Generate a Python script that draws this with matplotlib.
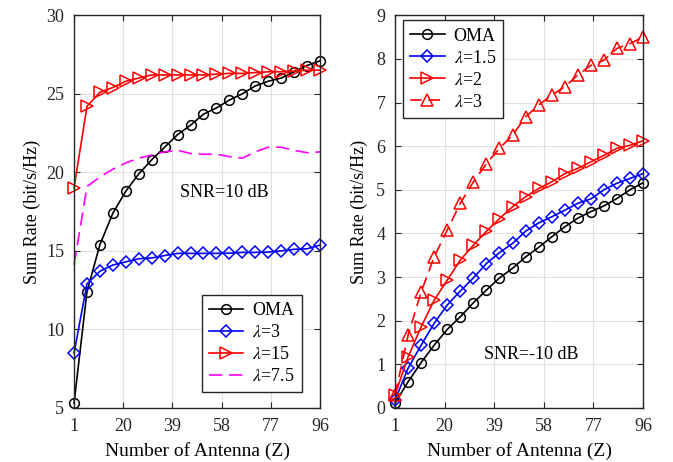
import numpy as np
import matplotlib
matplotlib.use("Agg")
import matplotlib.pyplot as plt

plt.rcParams['font.family'] = ['Liberation Serif', 'DejaVu Serif']
plt.rcParams['mathtext.fontset'] = 'stix'

# antenna counts (markers every 5 antennas)
z = [1, 6, 11, 16, 21, 26, 31, 36, 41, 46, 51, 56, 61, 66, 71, 76, 81, 86, 91, 96]

# left: SNR = 10 dB
oma_hi = [5.3, 12.4, 15.4, 17.4, 18.8, 19.9, 20.8, 21.6, 22.4, 23.0,
          23.7, 24.1, 24.6, 25.0, 25.5, 25.8, 26.0, 26.4, 26.8, 27.1]
lam3_hi = [8.5, 12.9, 13.7, 14.1, 14.3, 14.5, 14.55, 14.7, 14.84, 14.84,
           14.84, 14.84, 14.85, 14.9, 14.9, 14.92, 15.0, 15.1, 15.13, 15.37]
lam15_hi = [19.0, 24.2, 25.1, 25.4, 25.8, 26.0, 26.2, 26.2, 26.2, 26.2,
            26.2, 26.25, 26.3, 26.3, 26.35, 26.4, 26.4, 26.45, 26.5, 26.5]
lam75_hi = [14.1, 19.1, 19.7, 20.2, 20.6, 20.9, 21.1, 21.3, 21.4, 21.2,
            21.15, 21.15, 21.0, 20.9, 21.3, 21.6, 21.6, 21.4, 21.25, 21.3]

# right: SNR = -10 dB
oma_lo = [0.11, 0.6, 1.04, 1.44, 1.8, 2.09, 2.41, 2.7, 2.98, 3.2,
          3.46, 3.68, 3.92, 4.15, 4.35, 4.5, 4.63, 4.8, 5.0, 5.16]
lam15_lo = [0.18, 0.91, 1.44, 1.94, 2.36, 2.68, 2.98, 3.31, 3.56, 3.77,
            4.05, 4.24, 4.38, 4.53, 4.69, 4.79, 5.0, 5.15, 5.26, 5.37]
lam2_lo = [0.3, 1.17, 1.86, 2.47, 2.93, 3.39, 3.73, 4.05, 4.34, 4.61,
           4.84, 5.03, 5.18, 5.37, 5.49, 5.64, 5.79, 5.95, 6.02, 6.12]
lam3_lo = [0.3, 1.67, 2.66, 3.46, 4.08, 4.69, 5.18, 5.6, 5.95, 6.25,
           6.67, 6.94, 7.17, 7.36, 7.63, 7.85, 7.97, 8.24, 8.35, 8.5]

xt = [1, 20, 39, 58, 77, 96]
fs = 13

fig = plt.figure(figsize=(6.73, 4.62), dpi=100)
ax1 = fig.add_axes([0.110, 0.117, 0.3655, 0.850])
ax2 = fig.add_axes([0.587, 0.117, 0.3685, 0.850])

mk = dict(markerfacecolor='none', markeredgewidth=1.1, linewidth=1.2)
leg = dict(fontsize=fs, fancybox=False, edgecolor='#262626', framealpha=1,
           handlelength=1.9, handletextpad=0.5, labelspacing=0.28,
           borderpad=0.4, borderaxespad=0)

ax1.plot(z, oma_hi, '-o', color='k', markersize=7, label='OMA', **mk)
ax1.plot(z, lam3_hi, '-D', color='b', markersize=6.5, label=r'$\lambda$=3', **mk)
ax1.plot(z, lam15_hi, '->', color='r', markersize=8.5, label=r'$\lambda$=15', **mk)
ax1.plot(z, lam75_hi, '--', color='#ff00ff', dashes=(8, 4), linewidth=1.2,
         label=r'$\lambda$=7.5')
ax1.set_ylim(5, 30)
ax1.set_yticks([5, 10, 15, 20, 25, 30])
ax1.set_ylabel('Sum Rate (bit/s/Hz)', fontsize=fs, labelpad=4)
ax1.text(59, 18.7, 'SNR=10 dB', fontsize=fs, ha='center', va='center')
ax1.legend(loc='lower right', bbox_to_anchor=(0.927, 0.04), **leg)

ax2.plot(z, oma_lo, '-o', color='k', markersize=7, label='OMA', **mk)
ax2.plot(z, lam15_lo, '-D', color='b', markersize=6.5, label=r'$\lambda$=1.5', **mk)
ax2.plot(z, lam2_lo, '->', color='r', markersize=8.5, label=r'$\lambda$=2', **mk)
ax2.plot(z, lam3_lo, '--^', color='r', markersize=8.5, dashes=(7, 4),
         label=r'$\lambda$=3', **mk)
ax2.set_ylim(0, 9)
ax2.set_yticks(range(10))
ax2.set_ylabel('Sum Rate (bit/s/Hz)', fontsize=fs, labelpad=6)
ax2.text(53, 1.22, 'SNR=-10 dB', fontsize=fs, ha='center', va='center')
ax2.legend(loc='upper left', bbox_to_anchor=(0.032, 0.987), **leg)

for ax in (ax1, ax2):
    ax.set_xlim(1, 96)
    ax.set_xticks(xt)
    ax.set_xlabel('Number of Antenna (Z)', fontsize=fs + 1, labelpad=5)
    ax.grid(True, color='#e0e0e0', linewidth=0.8)
    ax.set_axisbelow(True)
    ax.tick_params(direction='in', top=True, right=True, labelsize=fs,
                   length=4, width=0.8, colors='#262626', pad=7)
    for s in ax.spines.values():
        s.set_linewidth(1.0)
        s.set_color('#262626')
    for m in ax.get_lines():
        m.set_clip_on(False)

fig.savefig('out.png', dpi=100)
